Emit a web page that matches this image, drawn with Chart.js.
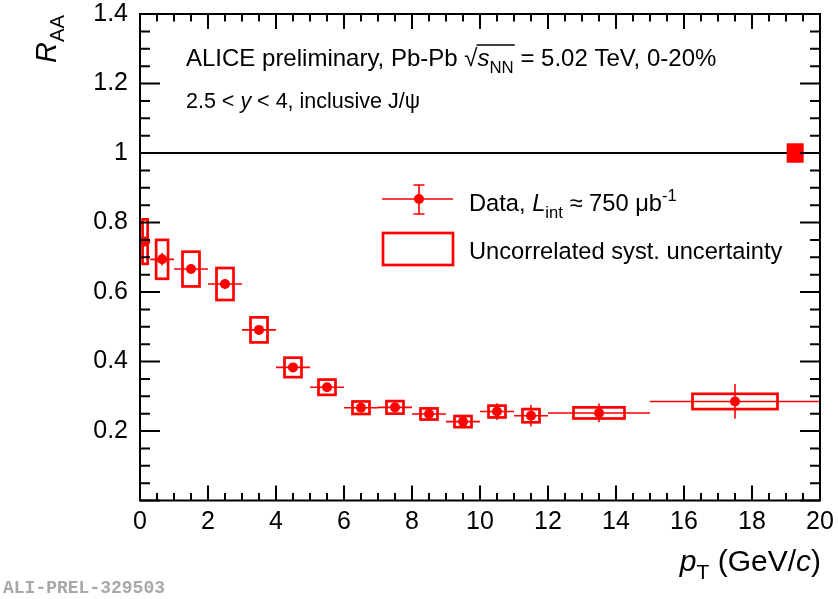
<!DOCTYPE html>
<html><head><meta charset="utf-8">
<script src="https://cdn.jsdelivr.net/npm/chart.js@4/dist/chart.umd.min.js"></script>
<style>html,body{margin:0;padding:0;background:#fff;}#c{display:block;}</style>
</head><body>
<canvas id="c" width="838" height="599"></canvas>
<script>
// ---- data ----
const ptCenter = [0.15, 0.65, 1.5, 2.5, 3.5, 4.5, 5.5, 6.5, 7.5, 8.5, 9.5, 10.5, 11.5, 13.5, 17.5];
const binLow   = [0.0, 0.3, 1, 2, 3, 4, 5, 6, 7, 8, 9, 10, 11, 12, 15];
const binHigh  = [0.3, 1.0, 2, 3, 4, 5, 6, 7, 8, 9, 10, 11, 12, 15, 20];
const raa      = [0.745, 0.694, 0.666, 0.623, 0.491, 0.383, 0.326, 0.267, 0.268, 0.249, 0.227, 0.256, 0.244, 0.252, 0.285];
const statErr  = [0.012, 0.018, 0.012, 0.012, 0.010, 0.010, 0.010, 0.010, 0.010, 0.010, 0.015, 0.024, 0.031, 0.027, 0.050];
const systErr  = [0.064, 0.056, 0.050, 0.046, 0.036, 0.028, 0.022, 0.018, 0.018, 0.016, 0.016, 0.017, 0.019, 0.016, 0.022];
const globalUnc = 0.028;       // correlated (global) uncertainty box at unity
const globalBoxX = [19.02, 19.52];
const xTickValues = [0, 2, 4, 6, 8, 10, 12, 14, 16, 18, 20];
const xTickLabels = ['0', '2', '4', '6', '8', '10', '12', '14', '16', '18', '20'];
const yTickValues = [0, 0.2, 0.4, 0.6, 0.8, 1.0, 1.2, 1.4];
const yTickLabels = ['', '0.2', '0.4', '0.6', '0.8', '1', '1.2', '1.4'];

const RED = '#ff0000';
const FF = '"Liberation Sans", Arial, Helvetica, sans-serif';

function richText(ctx, x, y, segs, baseSize, align) {
  const parts = segs.map(s => {
    const size = (s.sub || s.sup) ? baseSize * 0.7 : baseSize;
    const font = (s.it ? 'italic ' : '') + size + 'px ' + FF;
    ctx.font = font;
    return {s, font, w: ctx.measureText(s.t).width, dy: s.sub ? baseSize * 0.28 : (s.sup ? -baseSize * 0.42 : 0)};
  });
  const total = parts.reduce((a, p) => a + p.w, 0);
  let cx = align === 'right' ? x - total : x;
  ctx.textBaseline = 'alphabetic';
  ctx.textAlign = 'left';
  const pos = [];
  for (const p of parts) {
    ctx.font = p.font;
    ctx.fillText(p.s.t, cx, y + p.dy);
    pos.push({x: cx, w: p.w});
    cx += p.w;
  }
  return pos;
}

function noPad(s) { s.paddingTop = 0; s.paddingBottom = 0; s.paddingLeft = 0; s.paddingRight = 0; }

const drawPlugin = {
  id: 'rootStyle',
  beforeDatasetsDraw(chart) {
    const {ctx, chartArea: a, scales: {x, y}} = chart;
    ctx.save();
    ctx.beginPath(); ctx.rect(a.left, a.top, a.right - a.left, a.bottom - a.top); ctx.clip();
    // unity line
    ctx.strokeStyle = '#000'; ctx.lineWidth = 2;
    ctx.beginPath(); ctx.moveTo(x.getPixelForValue(0), y.getPixelForValue(1)); ctx.lineTo(x.getPixelForValue(20), y.getPixelForValue(1)); ctx.stroke();
    // systematic boxes
    ctx.strokeStyle = RED; ctx.lineWidth = 2.7;
    for (let i = 0; i < raa.length; i++) {
      const w = (binHigh[i] - binLow[i]) * 0.25;
      const x0 = x.getPixelForValue(ptCenter[i] - w), x1 = x.getPixelForValue(ptCenter[i] + w);
      const y0 = y.getPixelForValue(raa[i] + systErr[i]), y1 = y.getPixelForValue(raa[i] - systErr[i]);
      ctx.strokeRect(x0, y0, x1 - x0, y1 - y0);
    }
    // error bars
    ctx.lineWidth = 1.6;
    for (let i = 0; i < raa.length; i++) {
      const py = y.getPixelForValue(raa[i]), px = x.getPixelForValue(ptCenter[i]);
      ctx.beginPath();
      ctx.moveTo(x.getPixelForValue(binLow[i]), py); ctx.lineTo(x.getPixelForValue(binHigh[i]), py);
      ctx.moveTo(px, y.getPixelForValue(raa[i] + statErr[i])); ctx.lineTo(px, y.getPixelForValue(raa[i] - statErr[i]));
      ctx.stroke();
    }
    ctx.restore();
  },
  afterDatasetsDraw(chart) {
    const {ctx, chartArea: a, scales: {x, y}} = chart;
    ctx.save();
    // global uncertainty box
    ctx.fillStyle = RED;
    const gx0 = x.getPixelForValue(globalBoxX[0]), gx1 = x.getPixelForValue(globalBoxX[1]);
    const gy0 = y.getPixelForValue(1 + globalUnc), gy1 = y.getPixelForValue(1 - globalUnc);
    ctx.fillRect(gx0, gy0, gx1 - gx0, gy1 - gy0);
    // frame
    ctx.strokeStyle = '#000'; ctx.lineWidth = 2;
    ctx.strokeRect(a.left, a.top, a.right - a.left, a.bottom - a.top);
    // ticks
    ctx.lineWidth = 2;
    ctx.beginPath();
    for (let k = 0; k <= 40; k++) {
      const v = k * 0.5; const major = xTickValues.includes(v);
      const px = x.getPixelForValue(v); const L = major ? 15 : 7.5;
      ctx.moveTo(px, a.bottom); ctx.lineTo(px, a.bottom - L);
      ctx.moveTo(px, a.top); ctx.lineTo(px, a.top + L);
    }
    for (let k = 0; k <= 28; k++) {
      const v = +(k * 0.05).toFixed(2); const major = yTickValues.some(t => Math.abs(t - v) < 1e-6);
      const py = y.getPixelForValue(v); const L = major ? 20 : 10;
      ctx.moveTo(a.left, py); ctx.lineTo(a.left + L, py);
      ctx.moveTo(a.right, py); ctx.lineTo(a.right - L, py);
    }
    ctx.stroke();
    ctx.fillStyle = '#000';
    // annotation line 1
    const pos = richText(ctx, 186, 66, [
      {t: 'ALICE preliminary, Pb-Pb '}, {t: '\u221A'}, {t: 's', it: true}, {t: 'NN', sub: true},
      {t: ' = 5.02 TeV, 0-20%'}], 24);
    ctx.lineWidth = 1.3; ctx.beginPath();
    ctx.moveTo(pos[1].x + pos[1].w - 1, 45); ctx.lineTo(pos[3].x + pos[3].w + 1, 45); ctx.stroke();
    // annotation line 2
    richText(ctx, 186, 108, [{t: '2.5 < '}, {t: 'y', it: true}, {t: ' < 4, inclusive J/\u03C8'}], 21.5);
    // legend
    const lx0 = 382, lx1 = 453, lcx = 419;
    ctx.strokeStyle = RED; ctx.fillStyle = RED; ctx.lineWidth = 1.6;
    ctx.beginPath();
    ctx.moveTo(lx0, 199); ctx.lineTo(lx1, 199);
    ctx.moveTo(lcx, 185); ctx.lineTo(lcx, 214);
    ctx.moveTo(lcx - 5.5, 185); ctx.lineTo(lcx + 5.5, 185);
    ctx.moveTo(lcx - 5.5, 214); ctx.lineTo(lcx + 5.5, 214);
    ctx.stroke();
    ctx.beginPath(); ctx.arc(lcx, 199, 5, 0, Math.PI * 2); ctx.fill();
    ctx.lineWidth = 2.7; ctx.strokeRect(383, 233, 70, 32);
    ctx.fillStyle = '#000';
    richText(ctx, 469, 211, [{t: 'Data, '}, {t: 'L', it: true}, {t: 'int', sub: true}, {t: ' \u2248 750 \u03BCb'}, {t: '-1', sup: true}], 23.7);
    richText(ctx, 469, 259, [{t: 'Uncorrelated syst. uncertainty'}], 23.7);
    // x title
    richText(ctx, 821, 571, [{t: 'p', it: true}, {t: 'T', sub: true}, {t: ' (GeV/'}, {t: 'c', it: true}, {t: ')'}], 30, 'right');
    // y title
    ctx.save(); ctx.translate(56, 63); ctx.rotate(-Math.PI / 2);
    richText(ctx, 0, 0, [{t: 'R', it: true}, {t: 'AA', sub: true}], 29);
    ctx.restore();
    // label
    ctx.fillStyle = '#a8a8a8'; ctx.font = 'bold 18px "Liberation Mono", "DejaVu Sans Mono", monospace';
    ctx.textAlign = 'left'; ctx.textBaseline = 'alphabetic';
    ctx.fillText('ALI-PREL-329503', 3, 593);
    ctx.restore();
  }
};

new Chart(document.getElementById('c'), {
  type: 'scatter',
  data: {datasets: [{
    label: 'Data',
    data: ptCenter.map((v, i) => ({x: v, y: raa[i]})),
    pointRadius: 5, pointHoverRadius: 5, pointBackgroundColor: RED, pointBorderColor: RED, pointBorderWidth: 0,
    showLine: false
  }]},
  options: {
    responsive: false, animation: false, devicePixelRatio: 1,
    layout: {padding: {top: 14, right: 18, left: 0, bottom: 0}},
    plugins: {legend: {display: false}, tooltip: {enabled: false}, title: {display: false}},
    scales: {
      x: {
        type: 'linear', min: 0, max: 20,
        afterBuildTicks: s => { s.ticks = xTickValues.map(v => ({value: v})); },
        afterFit: s => { s.height = 98.5; noPad(s); },
        ticks: {color: '#000', font: {family: FF, size: 25}, padding: 7, maxRotation: 0, autoSkip: false,
          callback: (v) => xTickLabels[xTickValues.indexOf(v)]},
        grid: {display: false, drawTicks: false}, border: {display: false}
      },
      y: {
        type: 'linear', min: 0, max: 1.4,
        afterBuildTicks: s => { s.ticks = yTickValues.map(v => ({value: v})); },
        afterFit: s => { s.width = 140; noPad(s); },
        ticks: {color: '#000', font: {family: FF, size: 25}, padding: 12, autoSkip: false,
          callback: (v) => { const i = yTickValues.findIndex(t => Math.abs(t - v) < 1e-6); return i >= 0 ? yTickLabels[i] : ''; }},
        grid: {display: false, drawTicks: false}, border: {display: false}
      }
    }
  },
  plugins: [drawPlugin]
});
</script>
</body></html>
